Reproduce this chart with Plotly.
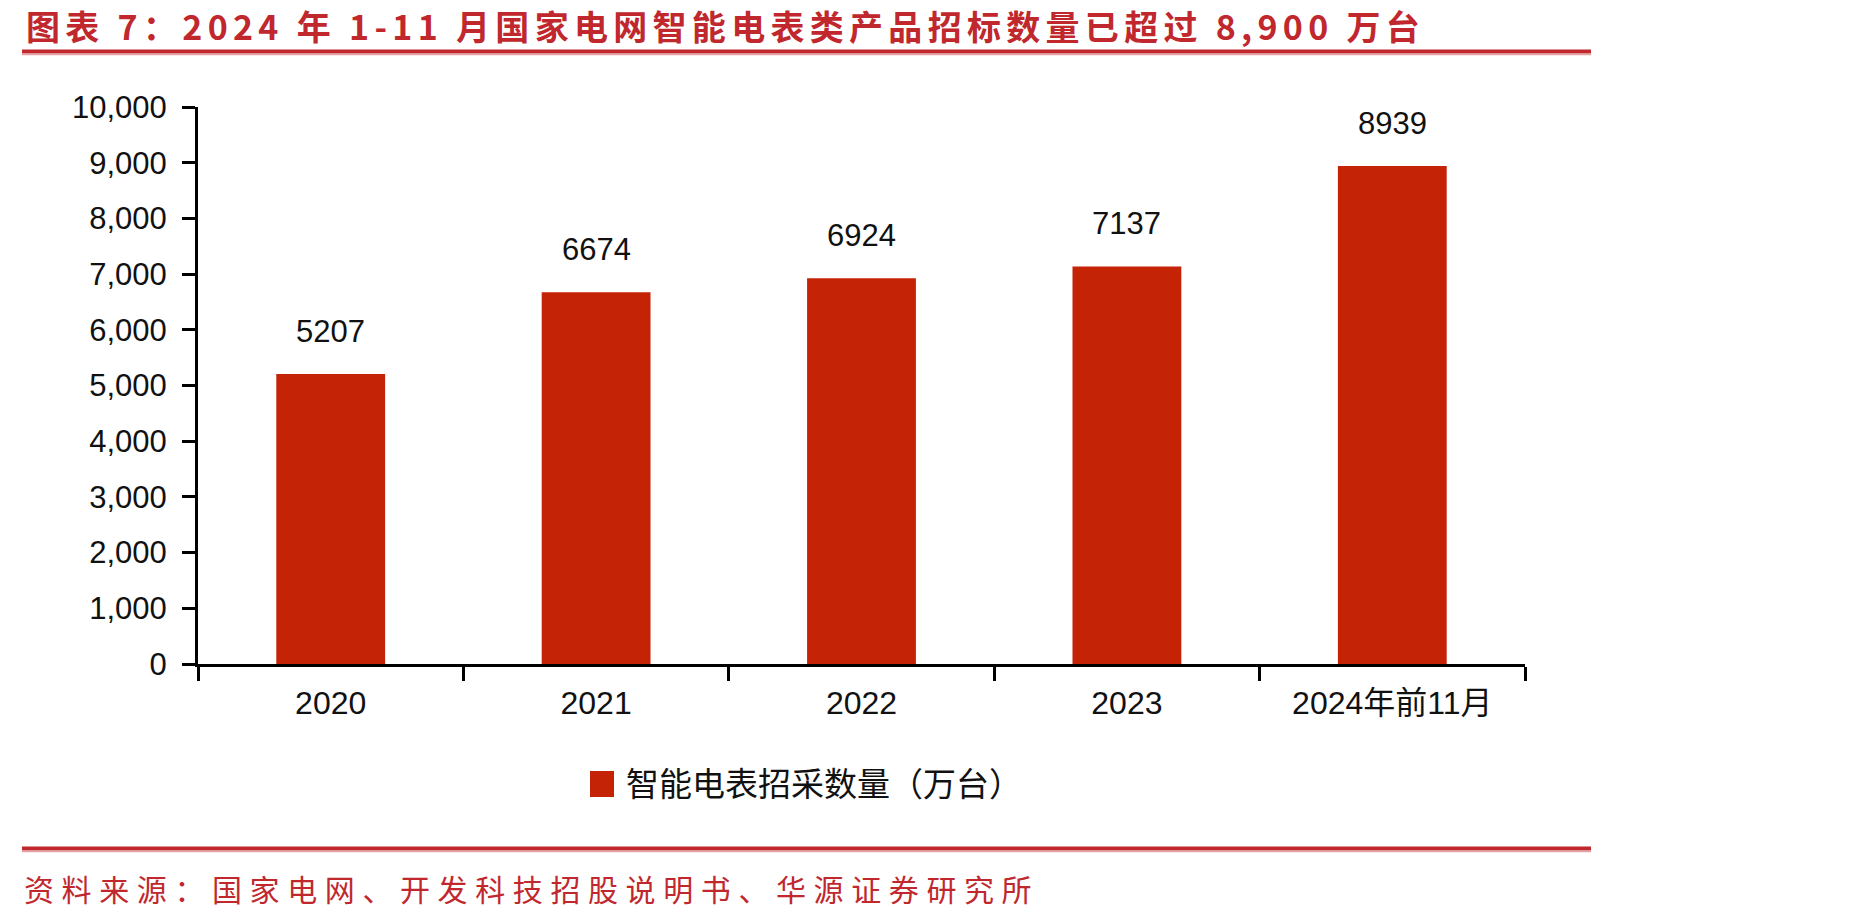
import plotly.graph_objects as go

# ---- data ----
categories = ["2020", "2021", "2022", "2023", "2024年前11月"]
values = [5207, 6674, 6924, 7137, 8939]
series_name = "智能电表招采数量（万台）"
title_text = "图表 7：2024 年 1-11 月国家电网智能电表类产品招标数量已超过 8,900 万台"
source_text = "资料来源：国家电网、开发科技招股说明书、华源证券研究所"
y_ticks = [0, 1000, 2000, 3000, 4000, 5000, 6000, 7000, 8000, 9000, 10000]

# ---- layout geometry (pixels) ----
W, H = 1852, 921
L, R, T, B = 198, 1525, 107, 664


def px(x):
    return (x - L) / (R - L)


def py(y):
    return (B - y) / (B - T)


RED = "#C0282E"
LIGHT = "#E3A3A5"
BAR = "#C42306"
FONT = "Liberation Sans, Arial, Noto Sans CJK SC, sans-serif"

fig = go.Figure()
fig.add_trace(go.Bar(
    x=categories, y=values, marker_color=BAR, marker_line_width=0,
    name=series_name, showlegend=False,
))

annotations = []
for i, v in enumerate(values):
    annotations.append(dict(
        x=i, y=v, xref="x", yref="y", text=str(v), showarrow=False,
        yanchor="bottom", yshift=23, font=dict(size=31, color="#111111", family=FONT),
    ))

# title
annotations.append(dict(
    xref="paper", yref="paper", x=px(24), y=py(26), xanchor="left", yanchor="middle",
    text='<span style="letter-spacing:5.3px">' + title_text + '</span>', showarrow=False,
    font=dict(size=34, color=RED, family="Noto Sans CJK SC", weight="bold"),
))
# source
annotations.append(dict(
    xref="paper", yref="paper", x=px(22), y=py(888), xanchor="left", yanchor="middle",
    text='<span style="letter-spacing:7.6px">' + source_text + '</span>', showarrow=False,
    font=dict(size=30, color=RED, family="Noto Sans CJK SC"),
))
# legend text
annotations.append(dict(
    xref="paper", yref="paper", x=px(624), y=py(784), xanchor="left", yanchor="middle",
    text=series_name, showarrow=False,
    font=dict(size=33, color="#111111", family=FONT),
))

shapes = []
for ytop in (51.5, 848.5):
    shapes.append(dict(type="line", xref="paper", yref="paper",
                       x0=px(22), x1=px(1591), y0=py(ytop), y1=py(ytop),
                       line=dict(color=RED, width=4)))
    shapes.append(dict(type="line", xref="paper", yref="paper",
                       x0=px(22), x1=px(1591), y0=py(ytop + 3), y1=py(ytop + 3),
                       line=dict(color=LIGHT, width=1.5)))
# legend swatch
shapes.append(dict(type="rect", xref="paper", yref="paper",
                   x0=px(590), x1=px(614), y0=py(771), y1=py(797),
                   fillcolor=BAR, line=dict(width=0)))

fig.update_layout(
    width=W, height=H,
    margin=dict(l=L, r=W - R, t=T, b=H - B, autoexpand=False),
    paper_bgcolor="white", plot_bgcolor="white",
    bargap=0.59,
    showlegend=False,
    annotations=annotations,
    shapes=shapes,
    font=dict(family=FONT, size=31, color="#111111"),
)
fig.update_xaxes(
    type="category", tickson="boundaries", ticks="outside", ticklen=14, tickwidth=2.5,
    tickcolor="black", showline=True, linewidth=3, linecolor="black", showgrid=False,
    tickfont=dict(size=32, family=FONT, color="#111111"), ticklabelstandoff=9,
    range=[-0.5, 4.5],
)
fig.update_yaxes(
    range=[0, 10000], tickvals=y_ticks, tickformat=",", ticks="outside", ticklen=13,
    tickwidth=2.5, tickcolor="black", showline=True, linewidth=3, linecolor="black",
    showgrid=False, zeroline=False, tickfont=dict(size=31, family=FONT, color="#111111"),
    ticklabelstandoff=9,
)

fig.write_html("out.html")
